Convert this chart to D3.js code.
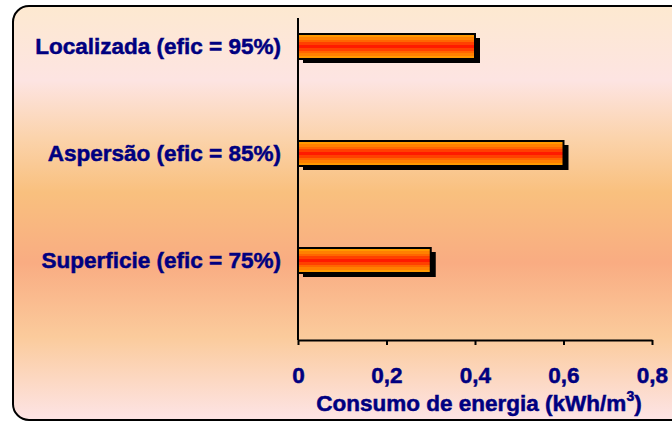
<!DOCTYPE html>
<html>
<head>
<meta charset="utf-8">
<script src="https://cdn.jsdelivr.net/npm/d3@7"></script>
<style>
  html, body { margin: 0; padding: 0; background: #ffffff; }
  svg { display: block; }
  svg text { font-family: "Liberation Sans", Arial, sans-serif !important; font-weight: 700 !important; fill: #000080; stroke: #000080; stroke-width: 0.5px; }
</style>
</head>
<body>
<script>
// Irrigation methods and their energy consumption (kWh/m³)
const categories = ["Localizada (efic = 95%)", "Aspersão (efic = 85%)", "Superficie (efic = 75%)"];
const consumo = [0.4, 0.6, 0.3];
const tickValues = [0, 0.2, 0.4, 0.6, 0.8];
const tickLabels = ["0", "0,2", "0,4", "0,6", "0,8"];

const W = 672, H = 423;
const FONT = 22.5;
const svg = d3.select("body").append("svg").attr("width", W).attr("height", H);
const defs = svg.append("defs");

// Panel background: soft vertical multi-stop gradient
const bg = defs.append("linearGradient").attr("id", "bg").attr("x1", 0).attr("y1", 0).attr("x2", 0).attr("y2", 1);
[[0, "#fde9d0"], [0.18, "#fde4e2"], [0.32, "#fbd3ab"], [0.45, "#f9c07e"], [0.62, "#f9ac82"], [0.8, "#fbcb9c"], [1, "#fde4e6"]]
  .forEach(([o, c]) => bg.append("stop").attr("offset", o).attr("stop-color", c));

// Bar fill: banded orange → red → orange
const barGrad = defs.append("linearGradient").attr("id", "barGrad").attr("x1", 0).attr("y1", 0).attr("x2", 0).attr("y2", 1);
const bands = ["#ff9900", "#ff8000", "#ff6600", "#ff4000", "#ff1a00", "#ff4000", "#ff6600", "#ff8000", "#ff9900"];
bands.forEach((c, i) => {
  barGrad.append("stop").attr("offset", i / bands.length).attr("stop-color", c);
  barGrad.append("stop").attr("offset", (i + 1) / bands.length).attr("stop-color", c);
});

svg.append("rect")
  .attr("x", 13).attr("y", 6).attr("width", 680).attr("height", 414)
  .attr("rx", 16).attr("ry", 16)
  .attr("fill", "url(#bg)").attr("stroke", "#000").attr("stroke-width", 2);

const x0 = 298, x1 = 652, yTop = 18, yBot = 340;
const x = d3.scaleLinear().domain([0, 0.8]).range([x0, x1]);
// Bands: step 107px, bar thickness 25px, first bar starting at y=34
const step = 107, band = 25, firstStart = 34;
const pInner = 1 - band / step, pOuter = (firstStart - yTop) / step;
const y = d3.scaleBand().domain(categories)
  .range([yTop, yTop + step * (categories.length - pInner + 2 * pOuter)])
  .paddingInner(pInner).paddingOuter(pOuter);

const g = svg.append("g");

// Drop shadows
g.selectAll("rect.shadow").data(categories).join("rect")
  .attr("class", "shadow")
  .attr("x", x(0) + 5).attr("y", (d) => y(d) + 4)
  .attr("width", (d, i) => x(consumo[i]) - x(0))
  .attr("height", y.bandwidth())
  .attr("fill", "#000");

// Bars
g.selectAll("rect.bar").data(categories).join("rect")
  .attr("class", "bar")
  .attr("x", x(0)).attr("y", (d) => y(d))
  .attr("width", (d, i) => x(consumo[i]) - x(0))
  .attr("height", y.bandwidth())
  .attr("fill", "url(#barGrad)")
  .attr("stroke", "#000").attr("stroke-width", 2);

// Category axis
const yAxis = svg.append("g").attr("transform", `translate(${x0},0)`)
  .call(d3.axisLeft(y).tickSize(0).tickPadding(17));
yAxis.select(".domain").attr("stroke", "#000").attr("stroke-width", 2).attr("d", `M0,${yTop}V${yBot}`);
yAxis.selectAll("text").attr("font-size", FONT);

// Value axis
const xAxis = svg.append("g").attr("transform", `translate(0,${yBot})`)
  .call(d3.axisBottom(x).tickValues(tickValues).tickFormat((d, i) => tickLabels[i]).tickSize(5).tickSizeOuter(0).tickPadding(22));
xAxis.select(".domain").attr("stroke", "#000").attr("stroke-width", 2);
xAxis.selectAll(".tick line").attr("stroke", "#000").attr("stroke-width", 2);
xAxis.selectAll("text").attr("font-size", FONT);

// Axis title with superscript
const title = svg.append("text").attr("x", 479).attr("y", 411).attr("text-anchor", "middle").attr("font-size", FONT);
title.append("tspan").text("Consumo de energia (kWh/m");
title.append("tspan").attr("font-size", 14).attr("dy", -10).text("3");
title.append("tspan").attr("dy", 10).text(")");
</script>
</body>
</html>
